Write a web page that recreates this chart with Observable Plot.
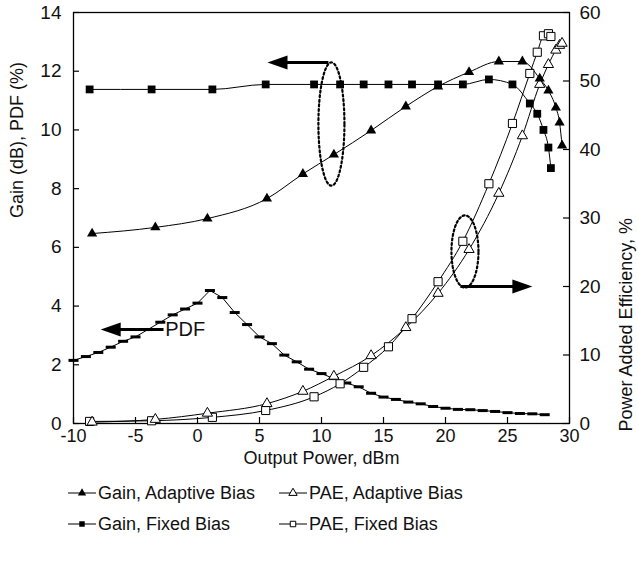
<!DOCTYPE html>
<html>
<head>
<meta charset="utf-8">
<script src="https://cdn.jsdelivr.net/npm/d3@7"></script>
<script src="https://cdn.jsdelivr.net/npm/@observablehq/plot@0.6"></script>
<style>
  body { margin: 0; background: #fff; font-family: "Liberation Sans", Arial, sans-serif; }
  #wrap { position: relative; width: 638px; height: 564px; }
  #legend { position: absolute; left: 0; top: 470px; width: 638px; height: 94px; }
  .item { position: absolute; display: flex; align-items: center; font-size: 18px; color: #111; white-space: nowrap; }
  .item svg { display: block; margin-right: 2px; }
</style>
</head>
<body>
<div id="wrap">
  <div id="chart"></div>
  <div id="legend"></div>
</div>
<script>
// ---------- data ----------
const xFixed       = [-8.7, -3.7, 1.2, 5.5, 9.4, 11.5, 13.4, 15.4, 17.3, 19.4, 21.4, 23.5, 25.4, 26.8, 27.4, 27.9, 28.3, 28.5];
const gainFixed    = [11.38, 11.38, 11.38, 11.55, 11.55, 11.55, 11.55, 11.55, 11.55, 11.55, 11.55, 11.72, 11.55, 10.9, 10.55, 10.0, 9.4, 8.7];
const paeFixed     = [0.3, 0.4, 0.9, 1.9, 3.9, 5.8, 8.2, 11.2, 15.3, 20.7, 26.6, 35.0, 43.8, 51.1, 54.2, 56.6, 56.9, 56.5];

const xAdaptive    = [-8.5, -3.4, 0.8, 5.6, 8.5, 11.0, 14.0, 16.8, 19.4, 21.9, 24.3, 26.2, 27.6, 28.3, 28.9, 29.2, 29.4];
const gainAdaptive = [6.47, 6.68, 6.98, 7.66, 8.5, 9.16, 9.98, 10.8, 11.48, 11.97, 12.33, 12.33, 11.75, 11.34, 10.76, 10.25, 9.47];
const paeAdaptive  = [0.2, 0.6, 1.5, 2.9, 4.7, 6.9, 9.9, 14.0, 19.0, 25.4, 33.6, 42.0, 49.5, 52.4, 54.5, 55.2, 55.5];

const xPdf   = [-10, -9, -8, -7, -6, -5, -4, -3, -2, -1, 0, 1, 2, 3, 4, 5, 6, 7, 8, 9, 10, 11, 12, 13, 14, 15, 16, 17, 18, 19, 20, 21, 22, 23, 24, 25, 26, 27, 28];
const pdfVal = [2.15, 2.28, 2.42, 2.6, 2.8, 2.95, 3.2, 3.45, 3.7, 3.9, 4.1, 4.53, 4.29, 3.78, 3.37, 2.95, 2.72, 2.33, 2.1, 1.85, 1.7, 1.53, 1.38, 1.25, 1.03, 0.9, 0.82, 0.73, 0.67, 0.58, 0.52, 0.48, 0.47, 0.44, 0.41, 0.37, 0.34, 0.33, 0.3];

const xTicks      = [-10, -5, 0, 5, 10, 15, 20, 25, 30];
const yLeftTicks  = [0, 2, 4, 6, 8, 10, 12, 14];
const yRightTicks = [0, 10, 20, 30, 40, 50, 60];

// annotations (data units: x in dBm, y in left-axis units)
const shafts = [
  {x1: 10.56, x2: 6.9, y: 12.3},
  {x1: 21.2, x2: 25.9, y: 4.667},
  {x1: -2.74, x2: -6.4, y: 3.2}
];
const heads = [
  {x: 6.45, y: 12.3, rot: 0},
  {x: 26.2, y: 4.667, rot: 180},
  {x: -7.0, y: 3.2, rot: 0}
];
const ellipses = [
  {cx: 10.8, cy: 10.2, rx: 1.05, ry: 2.1},
  {cx: 21.57, cy: 5.86, rx: 1.09, ry: 1.23}
];
const pdfLabel = [{x: -2.6, y: 3.2, text: "PDF"}];

// ---------- derived ----------
const K = 14 / 60; // PAE (%) -> left axis units
const fixed = xFixed.map((x, i) => ({x, gain: gainFixed[i], pae: paeFixed[i] * K}));
const adaptive = xAdaptive.map((x, i) => ({x, gain: gainAdaptive[i], pae: paeAdaptive[i] * K}));
const pdf = xPdf.map((x, i) => ({x, y: pdfVal[i]}));
const ellPts = ellipses.flatMap((e, k) =>
  d3.range(0, 121).map(i => {
    const t = (i / 120) * 2 * Math.PI;
    return {k, x: e.cx + e.rx * Math.cos(t), y: e.cy + e.ry * Math.sin(t)};
  })
);

const dashSym = {draw(ctx) { ctx.rect(-5, -1.5, 10, 3); }};
const headSym = {draw(ctx) { ctx.moveTo(-10, 0); ctx.lineTo(10, -7); ctx.lineTo(10, 7); ctx.closePath(); }};

const W = 638, H = 470, ML = 73, MR = 69, MT = 12, MB = 47;
const PW = W - ML - MR, PH = H - MT - MB;
const font = '"Liberation Sans", Arial, sans-serif';

const chart = Plot.plot({
  width: W, height: H,
  marginLeft: ML, marginRight: MR, marginTop: MT, marginBottom: MB,
  x: {domain: [-10, 30]},
  y: {domain: [0, 14]},
  style: {fontFamily: font, fontSize: "18px", color: "#111", background: "#fff", overflow: "visible"},
  marks: [
    // ticks (inward)
    Plot.tickX(xTicks, {x: d => d, insetTop: PH - 6, stroke: "#000", strokeWidth: 1.2}),
    Plot.tickY(yLeftTicks, {y: d => d, insetRight: PW - 6, stroke: "#000", strokeWidth: 1.2}),
    Plot.tickY(yRightTicks, {y: d => d * K, insetLeft: PW - 6, stroke: "#000", strokeWidth: 1.2}),
    // tick labels
    Plot.axisX({ticks: xTicks, tickFormat: d => String(d), tickSize: 0, tickPadding: 6, label: null, fontSize: 18}),
    Plot.axisY({anchor: "left", ticks: yLeftTicks, tickFormat: d => String(d), tickSize: 0, tickPadding: 12, label: null, fontSize: 19}),
    Plot.axisY({anchor: "right", ticks: yRightTicks.map(v => v * K), tickFormat: v => String(Math.round(v / K)), tickSize: 0, tickPadding: 10, label: null, fontSize: 19}),
    // axis titles
    Plot.text(["Output Power, dBm"], {frameAnchor: "bottom", lineAnchor: "middle", text: d => d, dy: 35, fontSize: 18}),
    Plot.text(["Gain (dB), PDF (%)"], {frameAnchor: "left", text: d => d, dx: -56, rotate: -90, fontSize: 18}),
    Plot.text(["Power Added Efficiency, %"], {frameAnchor: "right", text: d => d, dx: 57, rotate: -90, fontSize: 18}),
    // frame
    Plot.frame({stroke: "#000", strokeWidth: 1.3}),
    // annotations
    Plot.line(ellPts, {x: "x", y: "y", z: "k", stroke: "#000", strokeWidth: 2.2, strokeDasharray: "2,2.6"}),
    Plot.link(shafts, {x1: "x1", x2: "x2", y1: "y", y2: "y", stroke: "#000", strokeWidth: 3}),
    Plot.dot(heads, {x: "x", y: "y", symbol: headSym, rotate: "rot", fill: "#000", stroke: "none"}),
    Plot.text(pdfLabel, {x: "x", y: "y", text: "text", textAnchor: "start", fontSize: 20}),
    // PDF
    Plot.line(pdf, {x: "x", y: "y", stroke: "#000", strokeWidth: 1}),
    Plot.dot(pdf, {x: "x", y: "y", symbol: dashSym, fill: "#000", stroke: "none"}),
    // curves
    Plot.line(fixed, {x: "x", y: "gain", curve: "monotone-x", stroke: "#000", strokeWidth: 1}),
    Plot.line(adaptive, {x: "x", y: "gain", curve: "monotone-x", stroke: "#000", strokeWidth: 1}),
    Plot.line(fixed, {x: "x", y: "pae", curve: "monotone-x", stroke: "#000", strokeWidth: 1}),
    Plot.line(adaptive, {x: "x", y: "pae", curve: "monotone-x", stroke: "#000", strokeWidth: 1}),
    // markers
    Plot.dot(fixed, {x: "x", y: "pae", symbol: "square", r: 4.6, fill: "#fff", stroke: "#000", strokeWidth: 1}),
    Plot.dot(adaptive, {x: "x", y: "pae", symbol: "triangle", r: 3.8, fill: "#fff", stroke: "#000", strokeWidth: 1}),
    Plot.dot(fixed, {x: "x", y: "gain", symbol: "square", r: 4.4, fill: "#000", stroke: "none"}),
    Plot.dot(adaptive, {x: "x", y: "gain", symbol: "triangle", r: 3.8, fill: "#000", stroke: "none"})
  ]
});
document.getElementById("chart").appendChild(chart);

// ---------- legend ----------
const legendItems = [
  {label: "Gain, Adaptive Bias", sym: "triangle", fill: "#000", left: 68, top: 13},
  {label: "PAE, Adaptive Bias", sym: "triangle", fill: "#fff", left: 279, top: 13},
  {label: "Gain, Fixed Bias", sym: "square", fill: "#000", left: 68, top: 44},
  {label: "PAE, Fixed Bias", sym: "square", fill: "#fff", left: 279, top: 44}
];
const legend = d3.select("#legend");
for (const it of legendItems) {
  const div = legend.append("div").attr("class", "item").style("left", it.left + "px").style("top", it.top + "px").style("height", "20px");
  const svg = div.append("svg").attr("width", 28).attr("height", 14);
  svg.append("line").attr("x1", 0).attr("x2", 28).attr("y1", 7).attr("y2", 7).attr("stroke", "#000").attr("stroke-width", 1);
  const s = it.sym === "triangle" ? d3.symbol(d3.symbolTriangle, 30) : d3.symbol(d3.symbolSquare, 30);
  svg.append("path").attr("d", s()).attr("transform", "translate(14,7)")
    .attr("fill", it.fill).attr("stroke", "#000").attr("stroke-width", it.fill === "#fff" ? 1 : 0);
  div.append("span").text(it.label);
}
</script>
</body>
</html>
